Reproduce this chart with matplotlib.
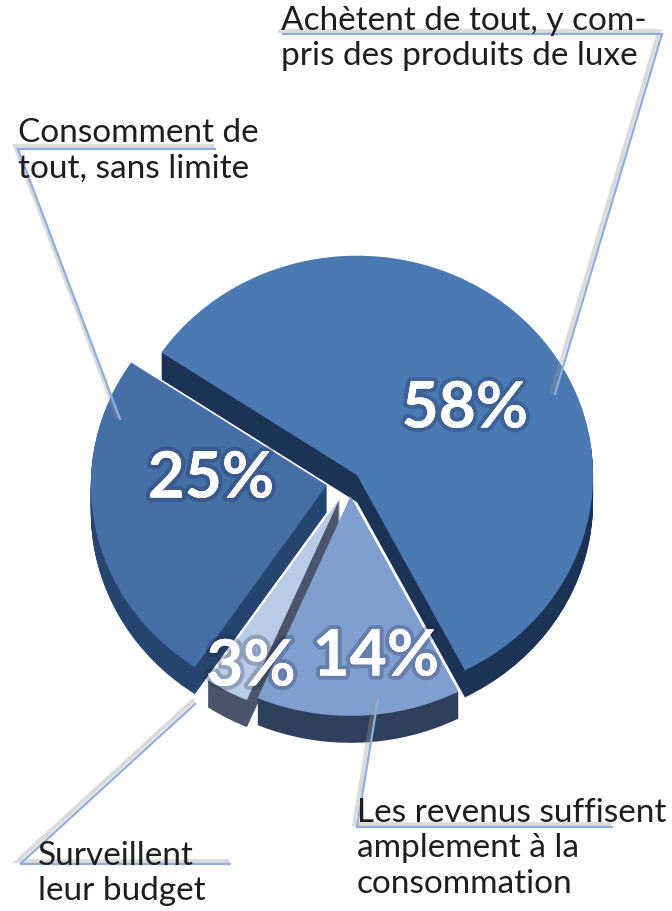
import numpy as np
import matplotlib.pyplot as plt
import matplotlib.patheffects as pe
from matplotlib.transforms import Affine2D

# slices, clockwise starting from the upper-left cut
shares = [58, 14, 3, 25]
categories = ["Achètent de tout, y com-\npris des produits de luxe",
              "Les revenus suffisent\namplement à la\nconsommation",
              "Surveillent\nleur budget",
              "Consomment de\ntout, sans limite"]
explode = [0.04, 0.07, 0.09, 0.1]

top_colors = ["#4a79b4", "#7fa0cf", "#b9cbe6", "#456fa7"]
side_colors = ["#1c3356", "#2f3f5c", "#4a556c", "#25446e"]

fig = plt.figure(figsize=(6.72, 9.12), dpi=100)
ax = fig.add_axes([0, 0, 1, 1])

cx, cy = 350, 482      # pie centre in pixels
rx, k = 236, 0.93      # x radius, vertical squash
depth = 27


def draw_layer(colors, shift):
    wedges, _ = ax.pie(shares, explode=explode, startangle=146,
                       counterclock=False, radius=1, colors=colors,
                       wedgeprops=dict(linewidth=0))
    tr = Affine2D().scale(rx, -k * rx).translate(cx, cy + shift) + ax.transData
    for w in wedges:
        w.set_transform(tr)


# extruded side, bottom layer first
for t in np.arange(depth, 0, -1):
    draw_layer(side_colors, t)
draw_layer(top_colors, 0)

ax.set_aspect('auto')
ax.set_xlim(0, 672)
ax.set_ylim(912, 0)
ax.axis('off')

# percentage labels
glow = [pe.withStroke(linewidth=6, foreground=(0.08, 0.12, 0.25, 0.25)),
        pe.Normal()]
pct_pos = [(465, 410), (376, 658), (251, 668), (211, 480)]
for v, (x, y) in zip(shares, pct_pos):
    ax.text(x, y, f"{v}%", color="white", fontsize=46, fontweight="bold",
            family="Lato", ha="center", va="center", path_effects=glow)

# leader lines + category text
line_fx = [pe.SimpleLineShadow(offset=(-2, 2), shadow_color="#999999",
                               alpha=0.35, linewidth=3), pe.Normal()]
lc = "#8eaee0"
leaders = [
    ([555, 662, 283], [395, 35, 35]),
    ([378, 357, 612], [700, 828, 828]),
    ([195, 20, 230], [705, 865, 865]),
    ([120, 18, 215], [420, 150, 150]),
]
for xs, ys in leaders:
    ax.plot(xs, ys, color=lc, lw=1.6, path_effects=line_fx,
            solid_joinstyle="miter")

txt_pos = [(281, 6), (357, 798), (38, 841), (18, 118)]
for c, (x, y) in zip(categories, txt_pos):
    ax.text(x, y, c, fontsize=24, family="Lato", color="#1e1e1e",
            ha="left", va="top", linespacing=1.22)

fig.savefig("out.png", dpi=100)
